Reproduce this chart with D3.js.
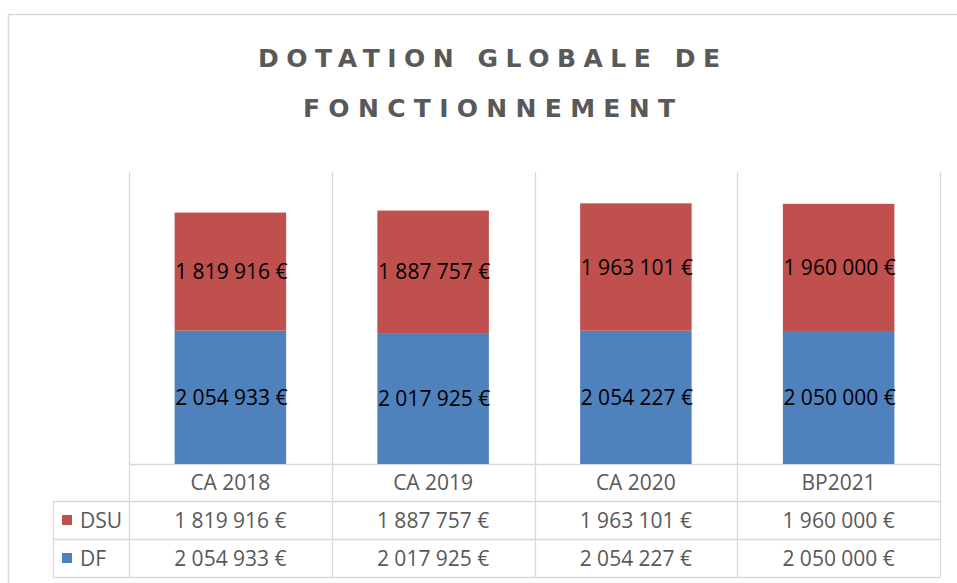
<!DOCTYPE html>
<html>
<head>
<meta charset="utf-8">
<script src="https://cdn.jsdelivr.net/npm/d3@7"></script>
<style>
  body { margin: 0; background: #fff; }
  svg { display: block; }
</style>
</head>
<body>
<svg id="chart" width="957" height="583"></svg>
<script>
// data
var categories = ["CA 2018", "CA 2019", "CA 2020", "BP2021"];
var dsuValues = [1819916, 1887757, 1963101, 1960000];
var dfValues = [2054933, 2017925, 2054227, 2050000];
var seriesNames = ["DSU", "DF"];
var seriesColors = {DSU: "#C0504D", DF: "#4F81BD"};
var titleLines = ["DOTATION GLOBALE DE", "FONCTIONNEMENT"];

var svg = d3.select("#chart");
var gridColor = "#d9d9d9";
var textGray = "#595959";
var font = "'Open Sans', sans-serif";

// french number format: 1 819 916 €
var fr = d3.formatLocale({decimal: ",", thousands: "\u00a0", grouping: [3], currency: ["", "\u00a0€"]});
var euro = fr.format("$,.0f");

var rows = categories.map(function(c, i) {
    return {cat: c, DSU: dsuValues[i], DF: dfValues[i]};
});

// outer frame (cut by the picture on the right and bottom)
svg.append("rect")
    .attr("x", 8.5).attr("y", 14.5)
    .attr("width", 980).attr("height", 600)
    .attr("fill", "none")
    .attr("stroke", gridColor)
    .attr("stroke-width", 1.5);

// title
var titleWidths = [462, 372];
svg.selectAll("text.title")
    .data(titleLines)
    .enter()
    .append("text")
    .attr("class", "title")
    .attr("x", 489)
    .attr("y", function(d, i) { return 67 + i * 50; })
    .attr("text-anchor", "middle")
    .attr("font-family", "'DejaVu Sans', sans-serif")
    .attr("font-weight", "bold")
    .attr("font-size", "25px")
    .attr("textLength", function(d, i) { return titleWidths[i]; })
    .attr("lengthAdjust", "spacing")
    .attr("fill", textGray)
    .text(function(d) { return d; });

// scales
var plotLeft = 129, plotRight = 940, plotTop = 172, plotBase = 464;
var x = d3.scaleBand().domain(categories).range([plotLeft, plotRight]).paddingInner(0.45).paddingOuter(0.225);
var xCol = d3.scaleBand().domain(categories).range([plotLeft, plotRight]);
var y = d3.scaleLinear().domain([0, 4500000]).range([plotBase, plotTop]);

var tableRows = [plotBase, plotBase + 37, plotBase + 75, plotBase + 113];
var legendLeft = 53;

// grid: vertical lines through plot and table
var g = svg.append("g");
var vx = categories.map(function(c) { return xCol(c); }).concat([plotRight]);
g.selectAll("line.v")
    .data(vx)
    .enter()
    .append("line")
    .attr("x1", function(d) { return Math.round(d) + 0.5; })
    .attr("x2", function(d) { return Math.round(d) + 0.5; })
    .attr("y1", plotTop)
    .attr("y2", tableRows[3])
    .attr("stroke", gridColor)
    .attr("stroke-width", 1.3);

g.append("line")
    .attr("x1", legendLeft + 0.5).attr("x2", legendLeft + 0.5)
    .attr("y1", tableRows[1]).attr("y2", tableRows[3])
    .attr("stroke", gridColor).attr("stroke-width", 1.3);

g.selectAll("line.h")
    .data(tableRows)
    .enter()
    .append("line")
    .attr("x1", function(d, i) { return i < 1 ? plotLeft : legendLeft; })
    .attr("x2", plotRight)
    .attr("y1", function(d) { return d + 0.5; })
    .attr("y2", function(d) { return d + 0.5; })
    .attr("stroke", gridColor)
    .attr("stroke-width", 1.3);

// stacked bars, DF at the bottom
var stack = d3.stack().keys(["DF", "DSU"]);
var layers = stack(rows);

var bars = svg.append("g").selectAll("g")
    .data(layers)
    .enter()
    .append("g")
    .attr("fill", function(d) { return seriesColors[d.key]; });

bars.selectAll("rect")
    .data(function(d) { return d; })
    .enter()
    .append("rect")
    .attr("x", function(d) { return x(d.data.cat); })
    .attr("y", function(d) { return y(d[1]); })
    .attr("width", x.bandwidth())
    .attr("height", function(d) { return y(d[0]) - y(d[1]); });

bars.selectAll("text")
    .data(function(d) { return d; })
    .enter()
    .append("text")
    .attr("x", function(d) { return x(d.data.cat) + x.bandwidth() / 2 + 1; })
    .attr("y", function(d) { return (y(d[0]) + y(d[1])) / 2; })
    .attr("dy", "0.36em")
    .attr("text-anchor", "middle")
    .attr("font-family", font)
    .attr("font-size", "21px")
    .attr("fill", "#000")
    .text(function(d) { return euro(d[1] - d[0]); });

// data table
svg.append("g").selectAll("text")
    .data(categories)
    .enter()
    .append("text")
    .attr("x", function(d) { return xCol(d) + xCol.bandwidth() / 2; })
    .attr("y", (tableRows[0] + tableRows[1]) / 2)
    .attr("dy", "0.36em")
    .attr("text-anchor", "middle")
    .attr("font-family", font)
    .attr("font-size", "21px")
    .attr("fill", textGray)
    .text(function(d) { return d; });

var tr = svg.append("g").selectAll("g")
    .data(seriesNames)
    .enter()
    .append("g")
    .attr("transform", function(d, i) {
        return "translate(0," + (tableRows[i + 1] + tableRows[i + 2]) / 2 + ")";
    });

tr.append("rect")
    .attr("x", 62).attr("y", -5)
    .attr("width", 10).attr("height", 10)
    .attr("fill", function(d) { return seriesColors[d]; });

tr.append("text")
    .attr("x", 80)
    .attr("dy", "0.36em")
    .attr("font-family", font)
    .attr("font-size", "21px")
    .attr("fill", textGray)
    .text(function(d) { return d; });

tr.selectAll("text.val")
    .data(function(d) {
        return rows.map(function(r) { return {cat: r.cat, v: r[d]}; });
    })
    .enter()
    .append("text")
    .attr("class", "val")
    .attr("x", function(d) { return xCol(d.cat) + xCol.bandwidth() / 2; })
    .attr("dy", "0.36em")
    .attr("text-anchor", "middle")
    .attr("font-family", font)
    .attr("font-size", "21px")
    .attr("fill", textGray)
    .text(function(d) { return euro(d.v); });
</script>
</body>
</html>
